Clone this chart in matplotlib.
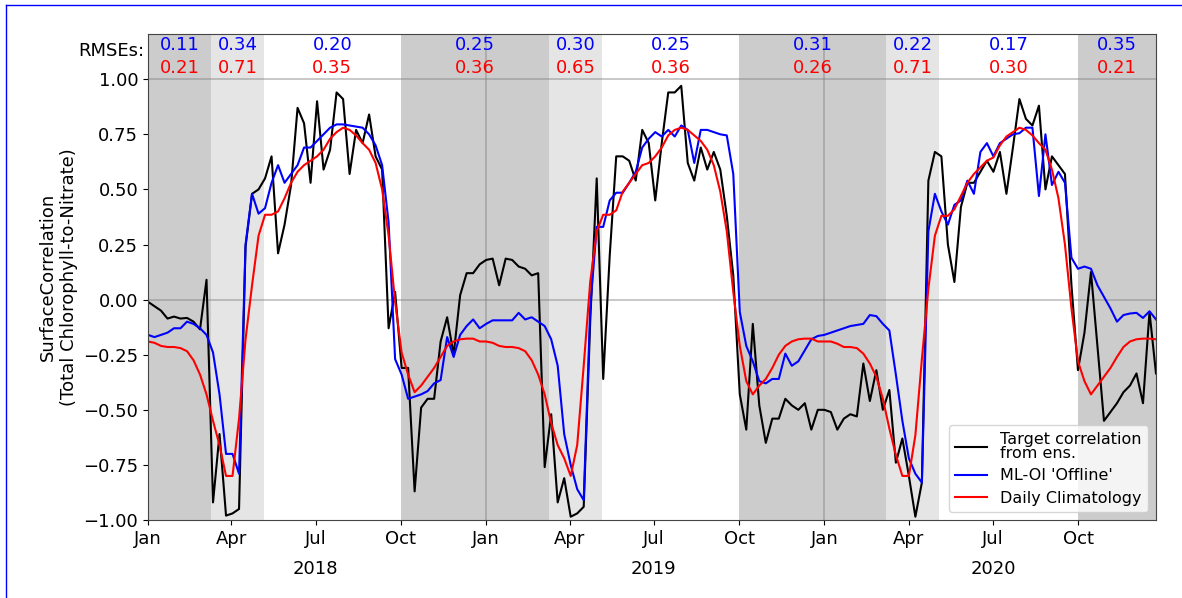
import numpy as np
import pandas as pd
import matplotlib
matplotlib.use("Agg")
import matplotlib.pyplot as plt
import matplotlib.dates as mdates
from matplotlib.lines import Line2D

# roughly weekly sample dates
dates = pd.date_range("2018-01-01", "2020-12-24", periods=156)

target = [
    -0.01, -0.03, -0.05, -0.086, -0.077, -0.086, -0.083, -0.10, -0.135, 0.09,
    -0.92, -0.61, -0.98, -0.97, -0.95, 0.24, 0.48, 0.50, 0.55, 0.65,
    0.21, 0.34, 0.52, 0.87, 0.80, 0.53, 0.90, 0.59, 0.68, 0.94,
    0.91, 0.57, 0.77, 0.71, 0.84, 0.65, 0.59, -0.13, 0.035, -0.31,
    -0.31, -0.87, -0.49, -0.45, -0.45, -0.19, -0.08, -0.25, 0.02, 0.12,
    0.12, 0.16, 0.18, 0.186, 0.065, 0.186, 0.18, 0.15, 0.14, 0.11,
    0.12, -0.76, -0.52, -0.92, -0.81, -0.985, -0.97, -0.94, -0.10, 0.55,
    -0.36, 0.20, 0.65, 0.65, 0.63, 0.54, 0.77, 0.71, 0.45, 0.71,
    0.94, 0.94, 0.97, 0.62, 0.54, 0.69, 0.59, 0.67, 0.59, 0.38,
    0.11, -0.43, -0.59, -0.11, -0.48, -0.65, -0.54, -0.54, -0.45, -0.48,
    -0.50, -0.47, -0.59, -0.50, -0.50, -0.51, -0.59, -0.54, -0.52, -0.53,
    -0.29, -0.46, -0.32, -0.50, -0.41, -0.74, -0.63, -0.80, -0.985, -0.83,
    0.54, 0.67, 0.65, 0.25, 0.08, 0.42, 0.53, 0.53, 0.58, 0.63,
    0.58, 0.67, 0.48, 0.69, 0.91, 0.82, 0.79, 0.88, 0.50, 0.65,
    0.61, 0.57, 0.065, -0.32, -0.15, 0.125, -0.21, -0.55, -0.51, -0.47,
    -0.42, -0.39, -0.335, -0.47, -0.056, -0.335,
]

mloi = [
    -0.16, -0.17, -0.16, -0.15, -0.13, -0.13, -0.10, -0.11, -0.13, -0.16,
    -0.24, -0.43, -0.70, -0.70, -0.79, 0.25, 0.48, 0.39, 0.415, 0.53,
    0.61, 0.53, 0.57, 0.61, 0.69, 0.69, 0.72, 0.75, 0.78, 0.795,
    0.795, 0.79, 0.785, 0.78, 0.75, 0.70, 0.61, 0.35, -0.27, -0.34,
    -0.45, -0.44, -0.43, -0.415, -0.38, -0.365, -0.17, -0.26, -0.16, -0.12,
    -0.09, -0.13, -0.11, -0.094, -0.094, -0.094, -0.094, -0.06, -0.09, -0.08,
    -0.10, -0.12, -0.18, -0.30, -0.61, -0.75, -0.86, -0.91, -0.04, 0.33,
    0.33, 0.45, 0.485, 0.485, 0.53, 0.58, 0.69, 0.73, 0.76, 0.74,
    0.77, 0.74, 0.79, 0.77, 0.62, 0.77, 0.77, 0.76, 0.75, 0.745,
    0.57, -0.056, -0.21, -0.28, -0.37, -0.38, -0.36, -0.36, -0.245, -0.30,
    -0.28, -0.23, -0.18, -0.165, -0.16, -0.15, -0.14, -0.13, -0.12, -0.115,
    -0.11, -0.07, -0.075, -0.11, -0.14, -0.34, -0.55, -0.72, -0.79, -0.83,
    0.31, 0.48, 0.40, 0.34, 0.43, 0.45, 0.54, 0.48, 0.67, 0.71,
    0.65, 0.71, 0.73, 0.75, 0.755, 0.78, 0.78, 0.47, 0.75, 0.52,
    0.58, 0.53, 0.19, 0.14, 0.15, 0.14, 0.065, 0.012, -0.04, -0.10,
    -0.07, -0.063, -0.06, -0.083, -0.053, -0.09,
]

clim = [
    -0.19, -0.196, -0.21, -0.215, -0.215, -0.22, -0.234, -0.275, -0.34, -0.43,
    -0.55, -0.66, -0.80, -0.80, -0.54, -0.18, 0.065, 0.29, 0.385, 0.385,
    0.40, 0.46, 0.53, 0.58, 0.61, 0.63, 0.65, 0.68, 0.73, 0.76,
    0.78, 0.77, 0.745, 0.71, 0.68, 0.62, 0.50, 0.29, -0.01, -0.24,
    -0.34, -0.42, -0.39, -0.35, -0.31, -0.26, -0.21, -0.19, -0.18, -0.177,
    -0.177, -0.19, -0.19, -0.196, -0.21, -0.215, -0.215, -0.22, -0.234, -0.275,
    -0.34, -0.43, -0.56, -0.66, -0.72, -0.80, -0.66, -0.30, 0.08, 0.31,
    0.385, 0.385, 0.405, 0.49, 0.53, 0.57, 0.61, 0.62, 0.65, 0.69,
    0.745, 0.77, 0.78, 0.77, 0.745, 0.72, 0.68, 0.61, 0.49, 0.31,
    0.035, -0.21, -0.37, -0.43, -0.39, -0.36, -0.31, -0.25, -0.21, -0.19,
    -0.18, -0.177, -0.177, -0.19, -0.19, -0.19, -0.20, -0.215, -0.215, -0.22,
    -0.245, -0.29, -0.35, -0.45, -0.585, -0.705, -0.80, -0.80, -0.615, -0.27,
    0.05, 0.29, 0.38, 0.38, 0.41, 0.47, 0.53, 0.57, 0.60, 0.63,
    0.645, 0.70, 0.74, 0.76, 0.78, 0.77, 0.745, 0.71, 0.68, 0.59,
    0.46, 0.25, -0.04, -0.28, -0.37, -0.43, -0.39, -0.35, -0.31, -0.26,
    -0.215, -0.19, -0.18, -0.177, -0.177, -0.18,
]

# season boundaries and shading (dark = winter, light = spring transition)
season_edges = ["2018-01-01", "2018-03-10", "2018-05-06", "2018-10-01",
                "2019-03-10", "2019-05-06", "2019-10-01", "2020-03-08",
                "2020-05-04", "2020-10-01", "2020-12-24"]
season_shade = [0.4, 0.2, 0.0, 0.4, 0.2, 0.0, 0.4, 0.2, 0.0, 0.4]
rmse_mloi = ["0.11", "0.34", "0.20", "0.25", "0.30", "0.25", "0.31", "0.22", "0.17", "0.35"]
rmse_clim = ["0.21", "0.71", "0.35", "0.36", "0.65", "0.36", "0.26", "0.71", "0.30", "0.21"]

fig = plt.figure(figsize=(11.82, 5.98), dpi=100)
ax = fig.add_axes([0.1252, 0.1304, 0.8528, 0.8127])

edges = pd.to_datetime(season_edges)
for k in range(len(season_shade)):
    if season_shade[k] > 0:
        ax.axvspan(edges[k], edges[k + 1], color="gray", alpha=season_shade[k], lw=0)

ax.axhline(0, color="gray", alpha=0.5, lw=1.2)
ax.axhline(1, color="gray", alpha=0.5, lw=1.2)
for yr in ["2019-01-01", "2020-01-01"]:
    ax.axvline(pd.Timestamp(yr), color="gray", alpha=0.5, lw=1.2)

ax.plot(dates, target, color="k", lw=1.5, label="Target correlation\nfrom ens.")
ax.plot(dates, mloi, color="b", lw=1.5, label="ML-OI 'Offline'")
ax.plot(dates, clim, color="r", lw=1.5, label="Daily Climatology")

ax.set_xlim(dates[0], dates[-1])
ax.set_ylim(-1.0, 1.205)
ax.set_yticks(np.arange(-1.0, 1.01, 0.25))
ax.xaxis.set_major_locator(mdates.MonthLocator(bymonth=[1, 4, 7, 10]))
ax.xaxis.set_major_formatter(mdates.DateFormatter("%b"))
ax.tick_params(labelsize=13)
for s in ax.spines.values():
    s.set_color("#444444")

ax.set_ylabel("SurfaceCorrelation\n(Total Chlorophyll-to-Nitrate)", fontsize=13)

# rmse annotations
tr = ax.get_xaxis_transform()
for k in range(len(rmse_mloi)):
    mid = edges[k] + (edges[k + 1] - edges[k]) / 2
    ax.text(mid, 1.154, rmse_mloi[k], color="b", fontsize=13,
            ha="center", va="center")
    ax.text(mid, 1.052, rmse_clim[k], color="r", fontsize=13,
            ha="center", va="center")
ax.text(-0.004, 1.13, "RMSEs:", fontsize=13, ha="right", va="center",
        transform=ax.get_yaxis_transform())

# year labels under July ticks
for yr in ["2018", "2019", "2020"]:
    ax.text(pd.Timestamp(yr + "-07-01"), -0.1, yr, fontsize=13,
            ha="center", va="center", transform=tr)

leg = ax.legend(loc="lower right", fontsize=11.5, labelspacing=0.45,
                borderpad=0.4)
leg.get_texts()[0].set_linespacing(0.95)

# blue frame around figure (top and left visible)
fig.add_artist(Line2D([6 / 1182, 6 / 1182], [0, 1 - 5 / 598], color="b", lw=1))
fig.add_artist(Line2D([6 / 1182, 1], [1 - 5 / 598, 1 - 5 / 598], color="b", lw=1))

fig.savefig("out.png", dpi=100)
